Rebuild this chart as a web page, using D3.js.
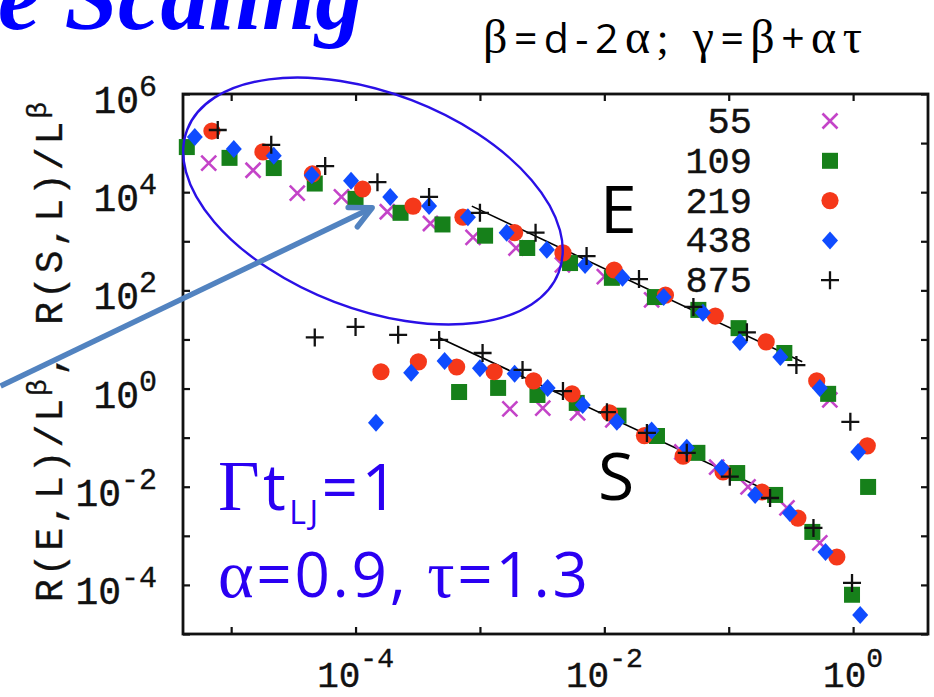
<!DOCTYPE html>
<html>
<head>
<meta charset="utf-8">
<script src="https://cdn.jsdelivr.net/npm/d3@7"></script>
<style>
body { margin: 0; background: #fff; }
svg { display: block; }
</style>
</head>
<body>
<script>
// system sizes L, one list per branch (E upper, S lower)
var sizes = ["55", "109", "219", "438", "875"];

var e55 = [[6.6e-6,3.9e4],[1.5e-5,2.8e4],[3.4e-5,9.6e3],[7.7e-5,8.0e3],[1.8e-4,4.0e3],[4.0e-4,2.3e3],[8.8e-4,1.2e3],[1.95e-3,730],[4.6e-3,330],[1.0e-2,190],[2.4e-2,64],[0.65,0.59]];
var s55 = [[1.74e-3,0.385],[3.2e-3,0.40],[6.1e-3,0.32],[1.17e-2,0.23],[4.2e-2,0.051],[8.0e-2,0.025],[0.143,0.0099],[0.294,0.0037],[0.54,7.2e-4]];

var e109 = [[4.4e-6,8.3e4],[9.7e-6,5.0e4],[2.2e-5,3.1e4],[4.7e-5,1.5e4],[1.0e-4,7.3e3],[2.3e-4,3.8e3],[5.0e-4,2.2e3],[1.1e-3,1.3e3],[2.4e-3,730],[5.3e-3,360],[1.15e-2,180],[2.55e-2,73],[5.7e-2,40],[0.12,17],[0.28,5.3],[0.63,0.78],[1.32,0.0099]];
var s109 = [[6.8e-4,0.85],[1.4e-3,1.03],[2.9e-3,0.74],[6.0e-3,0.51],[1.3e-2,0.28],[2.65e-2,0.108],[5.6e-2,0.049],[0.117,0.019],[0.236,6.8e-3],[0.47,1.2e-3],[0.98,6.3e-5]];

var e219 = [[7.0e-6,1.76e5],[1.8e-5,6.6e4],[4.5e-5,2.35e4],[1.14e-4,1.16e4],[2.9e-4,5.2e3],[7.3e-4,3.1e3],[1.9e-3,1.5e3],[4.65e-3,580],[1.2e-2,260],[3.1e-2,80],[7.8e-2,30],[0.2,8.9],[0.51,1.43],[1.3,0.068]];
var s219 = [[1.6e-4,2.2],[3.2e-4,3.5],[6.5e-4,2.75],[1.3e-3,2.2],[2.7e-3,1.43],[5.5e-3,0.78],[1.1e-2,0.32],[2.1e-2,0.11],[4.3e-2,0.042],[9.0e-2,0.020],[0.185,7.8e-3],[0.36,2.3e-3],[0.74,3.7e-4]];

var e438 = [[5.1e-6,1.33e5],[1.05e-5,7.6e4],[2.2e-5,5.5e4],[4.45e-5,2.2e4],[9.2e-5,1.7e4],[1.9e-4,8.0e3],[3.9e-4,5.2e3],[8.0e-4,3.1e3],[1.64e-3,1.5e3],[3.45e-3,670],[7.0e-3,330],[1.4e-2,180],[3.0e-2,73],[6.2e-2,35],[0.123,8.9],[0.26,4.4],[0.54,1.03],[1.1,0.051]];
var s438 = [[1.46e-4,0.2],[2.8e-4,2.1],[5.2e-4,3.65],[1.0e-3,2.6],[1.9e-3,2.0],[3.5e-3,1.03],[6.7e-3,0.46],[1.26e-2,0.21],[2.4e-2,0.14],[4.6e-2,0.062],[8.8e-2,0.024],[0.163,6.8e-3],[0.31,2.9e-3],[0.6,4.7e-4],[1.14,2.45e-5]];

var e875 = [[7.8e-6,1.85e5],[2.1e-5,9.2e4],[5.7e-5,3.4e4],[1.5e-4,1.6e4],[3.9e-4,8.0e3],[1.0e-3,3.8e3],[2.8e-3,1.5e3],[7.2e-3,500],[1.9e-2,170],[5.2e-2,46],[0.14,14],[0.35,3.0],[0.95,0.21]];
var s875 = [[4.7e-5,11],[1.0e-4,18],[2.2e-4,12.4],[4.7e-4,9.8],[1.05e-3,5.3],[2.2e-3,2.4],[4.65e-3,0.89],[1.05e-2,0.33],[2.2e-2,0.125],[4.6e-2,0.049],[0.102,0.016],[0.215,5.9e-3],[0.48,1.45e-3],[0.98,1.1e-4]];

// power-law guide lines
var fitE = [[8.6e-4,5.2e3],[0.39,3.5]];
var fitS = [[4.75e-4,10.7],[0.223,7.5e-3]];

var xDomain = [4.1e-6, 4.0];
var yDomain = [1e-5, 1e6];
var xTicks = [1e-5, 1e-4, 1e-3, 1e-2, 1e-1, 1];
var yTicks = [1e-5, 1e-4, 1e-3, 1e-2, 1e-1, 1, 10, 1e2, 1e3, 1e4, 1e5, 1e6];
var xLabelExp = [-4, -2, 0];
var yLabelExp = [-4, -2, 0, 2, 4, 6];

// annotation anchors (data units): ellipse centre, arrow tail, arrow tip
var ellipseAt = [1.38e-4, 6.6e3];
var arrowFrom = [1.4e-7, 1.13];
var arrowTo = [1.36e-4, 4.8e3];

var seriesE = [e55, e109, e219, e438, e875];
var seriesS = [s55, s109, s219, s438, s875];

var colors = ["#c444c8", "#16801a", "#f5381a", "#0f4cff", "#111111"];
var kinds = ["x", "square", "circle", "diamond", "plus"];

var W = 934, H = 697;
var pL = 183, pR = 928, pT = 94, pB = 634;

var x = d3.scaleLog().domain(xDomain).range([pL, pR]);
var y = d3.scaleLog().domain(yDomain).range([pB, pT]);

var svg = d3.select("body").append("svg").attr("width", W).attr("height", H);

var mono = "'Liberation Mono', 'Courier New', monospace";
var sans = "'Open Sans', 'Noto Sans', sans-serif";
var serif = "'Liberation Serif', 'Times New Roman', serif";

function marker(sel, kind, color) {
	if (kind == "x") {
		sel.append("path").attr("d", "M-7.5,-7.5L7.5,7.5M-7.5,7.5L7.5,-7.5")
			.attr("stroke", color).attr("stroke-width", 2.6).attr("fill", "none");
	} else if (kind == "plus") {
		sel.append("path").attr("d", "M-9,0L9,0M0,-9L0,9")
			.attr("stroke", color).attr("stroke-width", 2.3).attr("fill", "none");
	} else if (kind == "square") {
		sel.append("rect").attr("x", -8).attr("y", -8).attr("width", 16).attr("height", 16).attr("fill", color);
	} else if (kind == "circle") {
		sel.append("circle").attr("r", 8.6).attr("fill", color);
	} else {
		sel.append("path").attr("d", "M0,-9L8,0L0,9L-8,0Z").attr("fill", color);
	}
}

// axes with inward ticks on all four sides
function tidy(g) {
	g.select(".domain").remove();
	g.selectAll(".tick line").attr("stroke", "#111").attr("stroke-width", 2.2);
}
svg.append("g").attr("transform", "translate(0," + pB + ")")
	.call(d3.axisBottom(x).tickValues(xTicks).tickSize(-7).tickFormat("")).call(tidy);
svg.append("g").attr("transform", "translate(0," + pT + ")")
	.call(d3.axisTop(x).tickValues(xTicks).tickSize(-7).tickFormat("")).call(tidy);
svg.append("g").attr("transform", "translate(" + pL + ",0)")
	.call(d3.axisLeft(y).tickValues(yTicks).tickSize(-7).tickFormat("")).call(tidy);
svg.append("g").attr("transform", "translate(" + pR + ",0)")
	.call(d3.axisRight(y).tickValues(yTicks).tickSize(-7).tickFormat("")).call(tidy);

svg.append("rect").attr("x", pL).attr("y", pT).attr("width", pR - pL).attr("height", pB - pT)
	.attr("fill", "none").attr("stroke", "#111").attr("stroke-width", 2.8);

// tick labels 10^n (thin stroke to thicken the mono glyphs)
var xl = svg.append("g").selectAll("text").data(xLabelExp).join("text")
	.attr("x", function(d){ return x(Math.pow(10, d)); })
	.attr("y", pB + 53)
	.attr("text-anchor", "middle")
	.attr("font-family", mono).attr("font-size", 36).attr("fill", "#111")
	.attr("stroke", "#111").attr("stroke-width", 0.4);
xl.append("tspan").text("10");
xl.append("tspan").attr("dy", -20).attr("font-size", 28).text(function(d){ return d; });

var yl = svg.append("g").selectAll("text").data(yLabelExp).join("text")
	.attr("x", pL - 26)
	.attr("y", function(d){ return y(Math.pow(10, d)) + 19; })
	.attr("text-anchor", "end")
	.attr("font-family", mono).attr("font-size", 38).attr("fill", "#111")
	.attr("stroke", "#111").attr("stroke-width", 0.4);
yl.append("tspan").text("10");
yl.append("tspan").attr("dy", -17).attr("font-size", 30).text(function(d){ return d; });

// y axis title
var yt = svg.append("text")
	.attr("transform", "translate(62,352) rotate(-90)")
	.attr("text-anchor", "middle")
	.attr("font-family", mono).attr("font-size", 38).attr("fill", "#111")
	.attr("stroke", "#111").attr("stroke-width", 0.35)
	.attr("textLength", 500).attr("lengthAdjust", "spacing");
yt.append("tspan").text("R(E,L)/L");
yt.append("tspan").attr("dy", -16).attr("font-size", 28).text("β");
yt.append("tspan").attr("dy", 16).text(", R(S,L)/L");
yt.append("tspan").attr("dy", -16).attr("font-size", 28).text("β");

// guide lines
var line = d3.line().x(function(d){ return x(d[0]); }).y(function(d){ return y(d[1]); });
[fitE, fitS].forEach(function(f) {
	svg.append("path").attr("d", line(f)).attr("stroke", "#000").attr("stroke-width", 1.6).attr("fill", "none");
});

// data points, drawn in legend order
sizes.forEach(function(s, i) {
	var pts = seriesE[i].concat(seriesS[i]);
	svg.append("g").selectAll("g").data(pts).join("g")
		.attr("transform", function(d){ return "translate(" + x(d[0]) + "," + y(d[1]) + ")"; })
		.each(function(){ marker(d3.select(this), kinds[i], colors[i]); });
});

// legend
var leg = svg.append("g").selectAll("g").data(sizes).join("g")
	.attr("transform", function(d, i){ return "translate(0," + (133 + i * 39.8) + ")"; });
leg.append("text").attr("x", 752).attr("text-anchor", "end")
	.attr("font-family", mono).attr("font-size", 37).attr("fill", "#111")
	.attr("stroke", "#111").attr("stroke-width", 0.4)
	.text(function(d){ return d; });
leg.each(function(d, i) {
	var g = d3.select(this).append("g").attr("transform", "translate(830,-12)");
	marker(g, kinds[i], colors[i]);
});

// branch labels
svg.append("text").attr("x", 600).attr("y", 233).attr("font-family", sans).attr("font-size", 66).attr("fill", "#000").text("E");
svg.append("text").attr("x", 598).attr("y", 500).attr("font-family", sans).attr("font-size", 66).attr("fill", "#000").text("S");

// highlight ellipse and arrow
var ec = [x(ellipseAt[0]), y(ellipseAt[1])];
svg.append("ellipse").attr("cx", 0).attr("cy", 0).attr("rx", 199).attr("ry", 108)
	.attr("transform", "translate(" + ec[0] + "," + ec[1] + ") rotate(21)")
	.attr("fill", "none").attr("stroke", "#2a10e6").attr("stroke-width", 2.4);

var a0 = [x(arrowFrom[0]), y(arrowFrom[1])], a1 = [x(arrowTo[0]), y(arrowTo[1])];
var ang = Math.atan2(a0[1] - a1[1], a0[0] - a1[0]);
var barb = 24, spread = 0.46;
var head = "M" + (a1[0] + barb * Math.cos(ang + spread)) + "," + (a1[1] + barb * Math.sin(ang + spread)) +
	"L" + a1[0] + "," + a1[1] +
	"L" + (a1[0] + barb * Math.cos(ang - spread)) + "," + (a1[1] + barb * Math.sin(ang - spread));
svg.append("path").attr("d", "M" + a0[0] + "," + a0[1] + "L" + a1[0] + "," + a1[1])
	.attr("stroke", "#5283c0").attr("stroke-width", 5.5).attr("fill", "none");
svg.append("path").attr("d", head)
	.attr("stroke", "#5283c0").attr("stroke-width", 5.5).attr("fill", "none")
	.attr("stroke-linecap", "round").attr("stroke-linejoin", "round");

// slide texts
svg.append("text").attr("x", -2).attr("y", 29)
	.attr("font-family", serif).attr("font-weight", "bold").attr("font-style", "italic")
	.attr("font-size", 96).attr("fill", "#0000ff").text("e Scaling");

var eq = svg.append("text").attr("x", 483).attr("y", 53).attr("font-size", 42).attr("fill", "#000")
	.attr("textLength", 379).attr("lengthAdjust", "spacing");
[["β", serif, 48], ["=d-2", sans, 41], ["α", serif, 48], ["; ", serif, 44], ["γ", serif, 48], ["=", sans, 41], ["β", serif, 48], ["+", sans, 41], ["ατ", serif, 48]]
	.forEach(function(p){ eq.append("tspan").attr("font-family", p[1]).attr("font-size", p[2]).text(p[0]); });

var blue = "#2a00f2";
var t1 = svg.append("text").attr("x", 218).attr("y", 510).attr("font-size", 64).attr("fill", blue)
	.attr("textLength", 180).attr("lengthAdjust", "spacing");
t1.append("tspan").attr("font-family", serif).attr("font-size", 72).text("Γ");
t1.append("tspan").attr("font-family", sans).text("t");
t1.append("tspan").attr("font-family", sans).attr("font-size", 32).attr("dy", 14).text("LJ");
t1.append("tspan").attr("font-family", sans).attr("dy", -14).text("=1");

var t2 = svg.append("text").attr("x", 218).attr("y", 597).attr("font-size", 62).attr("fill", blue)
	.attr("textLength", 370).attr("lengthAdjust", "spacing");
t2.append("tspan").attr("font-family", serif).attr("font-size", 68).text("α");
t2.append("tspan").attr("font-family", sans).text("=0.9, ");
t2.append("tspan").attr("font-family", serif).attr("font-size", 68).text("τ");
t2.append("tspan").attr("font-family", sans).text("=1.3");
</script>
</body>
</html>
